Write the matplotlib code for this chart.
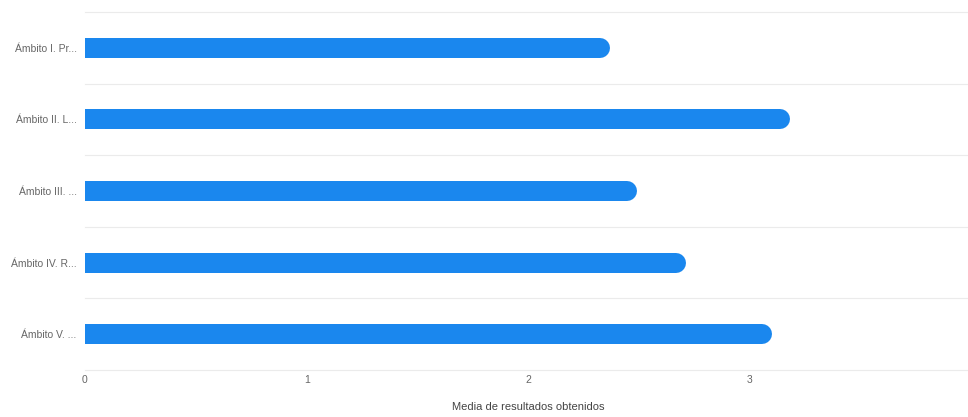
import matplotlib
matplotlib.use('Agg')
import matplotlib.pyplot as plt

# Data
categories = ['Ámbito I. Pr...', 'Ámbito II. L...', 'Ámbito III. ...', 'Ámbito IV. R...', 'Ámbito V. ...']
values = [2.37, 3.18, 2.49, 2.71, 3.10]
x_ticks = [0, 1, 2, 3]

plt.rcParams['font.family'] = ['Liberation Sans Narrow', 'Liberation Sans', 'DejaVu Sans']

fig = plt.figure(figsize=(9.68, 4.17), dpi=100)
ax = fig.add_axes([0.0878, 0.113, 0.916, 0.858])

bar_color = '#1a87ee'
bar_px = 20  # bar thickness in pixels
ax.set_xlim(0, 4)
ax.set_ylim(len(categories) - 0.5, -0.5)

# data units per pixel along x, to keep the round cap inside the value
px_per_unit = ax.get_window_extent().width / 4.0
cap = (bar_px / 2) / px_per_unit

for i, v in enumerate(values):
    # square left part, rounded right end
    ax.plot([-1, v - cap], [i, i], color=bar_color, lw=bar_px * 72 / 100,
            solid_capstyle='round', zorder=3)

# row separators
for b in range(len(categories) + 1):
    ax.axhline(b - 0.5, color='#ebebeb', lw=0.8, zorder=1, clip_on=False)

ax.set_yticks(range(len(categories)))
ax.set_yticklabels(categories)
ax.set_xticks(x_ticks)
ax.tick_params(axis='both', length=0, labelsize=7.5, labelcolor='#666666')
ax.tick_params(axis='x', pad=4)
ax.tick_params(axis='y', pad=6)
ax.set_xlabel('Media de resultados obtenidos', fontsize=8, color='#444444', labelpad=12)

for s in ax.spines.values():
    s.set_visible(False)

fig.savefig('out.png', dpi=100)
